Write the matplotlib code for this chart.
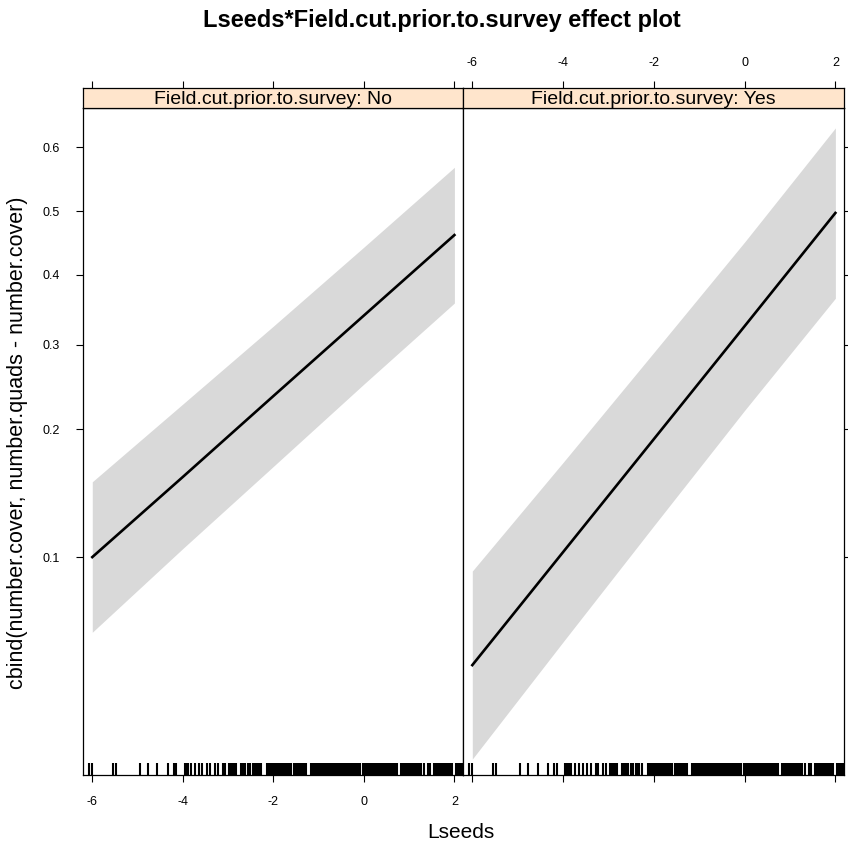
import matplotlib
matplotlib.use('Agg')
import matplotlib.pyplot as plt
from matplotlib.ticker import NullLocator

plt.rcParams['font.family'] = ['Liberation Sans', 'DejaVu Sans']

# fitted effect (probability scale) and 95% band at a few Lseeds values
lseeds = [-6, -4, -2, 0, 2]
fit_no = [0.100, 0.156, 0.236, 0.340, 0.462]
upper_no = [0.152, 0.227, 0.325, 0.443, 0.569]
lower_no = [0.0645, 0.105, 0.165, 0.250, 0.358]
fit_yes = [0.0530, 0.1029, 0.1903, 0.325, 0.497]
upper_yes = [0.0923, 0.1685, 0.2895, 0.451, 0.629]
lower_yes = [0.0299, 0.0609, 0.1194, 0.220, 0.365]

levels = ['No', 'Yes']
x_ticks = [-6, -4, -2, 0, 2]
y_ticks = [0.1, 0.2, 0.3, 0.4, 0.5, 0.6]

# observed Lseeds values shown as a rug
rug = [-6.07, -6.01, -5.54, -5.48, -4.95, -4.78, -4.56, -4.33, -4.20, -4.14,
       -3.96, -3.92, -3.88, -3.83, -3.74, -3.64, -3.57, -3.47, -3.39, -3.28,
       -3.23, -3.12, -3.06, -2.97, -2.94, -2.90, -2.86, -2.82, -2.71, -2.66,
       -2.62, -2.57, -2.51, -2.45, -2.40, -2.36, -2.32, -2.27,
       -2.13, -2.09, -2.05, -2.01, -1.97, -1.93, -1.89, -1.85, -1.81, -1.77,
       -1.73, -1.69, -1.65, -1.61,
       -1.54, -1.50, -1.46, -1.42, -1.38, -1.34, -1.30, -1.27,
       -1.17, -1.13, -1.09, -1.05, -1.01, -0.97, -0.93, -0.89, -0.85, -0.81,
       -0.77, -0.73, -0.69, -0.65, -0.61, -0.57, -0.53, -0.49, -0.45, -0.41,
       -0.37, -0.33, -0.29, -0.25, -0.21, -0.17, -0.13, -0.09,
       -0.01, 0.03, 0.07, 0.11, 0.15, 0.19, 0.23, 0.27, 0.31, 0.35, 0.39,
       0.43, 0.47, 0.51, 0.55, 0.59, 0.63, 0.67, 0.71, 0.74,
       0.82, 0.86, 0.90, 0.94, 0.98, 1.02, 1.06, 1.10, 1.14, 1.18, 1.22, 1.26,
       1.33, 1.42, 1.46,
       1.54, 1.58, 1.62, 1.66, 1.70, 1.74, 1.78, 1.82, 1.86, 1.90, 1.94,
       2.04, 2.08, 2.12, 2.16, 2.19]

W = 848


def fx(px):
    return px / W


def fy(py):
    return 1 - py / W


fig = plt.figure(figsize=(8.48, 8.48), dpi=100)

xlim = (-6.205, 2.19)
ylim = (0.0271, 0.658)
panel_top, panel_bot, strip_top = 108, 775, 88
edges = [(83, 463), (463, 844)]

series = [(fit_no, lower_no, upper_no), (fit_yes, lower_yes, upper_yes)]

for i, (lev, (fit, lo, hi), (x0, x1)) in enumerate(zip(levels, series, edges)):
    ax = fig.add_axes([fx(x0), fy(panel_bot), (x1 - x0) / W,
                       (panel_bot - panel_top) / W])
    ax.set_yscale('logit')
    ax.set_xlim(*xlim)
    ax.set_ylim(*ylim)
    ax.fill_between(lseeds, lo, hi, color='#D9D9D9', lw=0)
    ax.plot(lseeds, fit, color='black', lw=1.9)
    ax.vlines(rug, 0, 0.018, transform=ax.get_xaxis_transform(),
              color='black', lw=1.5)

    ax.set_xticks(x_ticks, labels=[str(t) for t in x_ticks])
    ax.set_yticks(y_ticks, labels=[str(t) for t in y_ticks])
    ax.yaxis.set_minor_locator(NullLocator())
    ax.xaxis.set_minor_locator(NullLocator())
    ax.tick_params(direction='out', length=5, width=0.8, labelsize=9,
                   colors='black')
    ax.tick_params(axis='y', pad=12)
    ax.tick_params(axis='x', pad=10)
    if i == 0:
        ax.tick_params(left=True, labelleft=True, right=False,
                       bottom=True, labelbottom=True)
    else:
        ax.tick_params(left=False, labelleft=False, right=True,
                       labelright=False, bottom=True, labelbottom=False)
    for s in ax.spines.values():
        s.set_linewidth(0.9)

    # strip with the factor level
    st = fig.add_axes([fx(x0), fy(panel_top), (x1 - x0) / W,
                       (panel_top - strip_top) / W])
    st.set_facecolor('#FFE5CC')
    st.set_xlim(*xlim)
    st.set_yticks([])
    st.set_xticks(x_ticks, labels=[str(t) for t in x_ticks])
    st.xaxis.set_minor_locator(NullLocator())
    st.tick_params(axis='x', direction='out', length=5, width=0.8,
                   labelsize=9, pad=9, bottom=False, labelbottom=False,
                   top=True, labeltop=(i == 1))
    for s in st.spines.values():
        s.set_linewidth(0.9)
    st.text(0.5, 0.45, 'Field.cut.prior.to.survey: ' + lev,
            transform=st.transAxes, ha='center', va='center', fontsize=14)

fig.text(fx(442), fy(21), 'Lseeds*Field.cut.prior.to.survey effect plot',
         ha='center', va='center', fontsize=17, fontweight='bold')
fig.text(fx(461), fy(832), 'Lseeds', ha='center', va='center', fontsize=15)
fig.text(fx(18), fy(443), 'cbind(number.cover, number.quads - number.cover)',
         ha='center', va='center', rotation=90, fontsize=15.5)

fig.savefig('out.png', dpi=100)
